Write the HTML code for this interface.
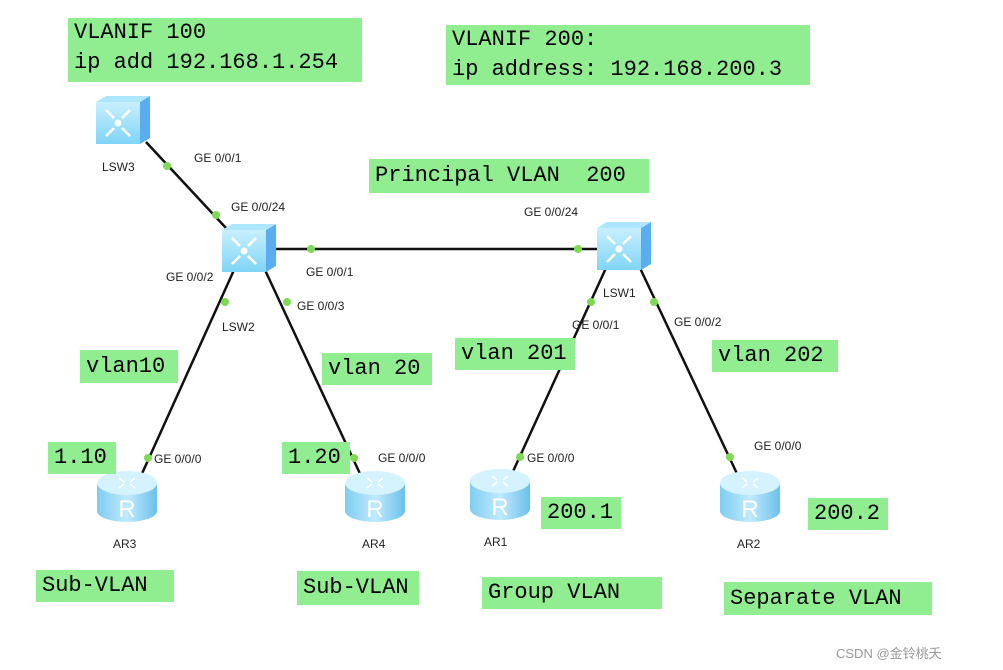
<!DOCTYPE html>
<html><head><meta charset="utf-8"><style>
body{margin:0;width:1003px;height:670px;background:#fff;position:relative;overflow:hidden;font-family:"Liberation Sans",sans-serif}
.g{position:absolute;background:#90ee90;font-family:"Liberation Mono",monospace;font-size:22px;line-height:30px;color:#000;padding:0 6px;box-sizing:border-box;white-space:pre}
.l{position:absolute;font-size:12px;color:#222;white-space:nowrap}
</style></head><body>
<svg width="1003" height="670" style="position:absolute;left:0;top:0">
<defs>
<linearGradient id="sf" x1="0" y1="0" x2="0" y2="1"><stop offset="0" stop-color="#c8f0ff"/><stop offset="1" stop-color="#7fd4f7"/></linearGradient>
<linearGradient id="rf" x1="0" y1="0" x2="1" y2="0"><stop offset="0" stop-color="#7fcdf0"/><stop offset="0.5" stop-color="#bfeaff"/><stop offset="1" stop-color="#6cc0ea"/></linearGradient>
<g id="sw"><polygon points="0,6 44,6 54,0 54,42 44,48 0,48" fill="#5aaef0"/><polygon points="0,6 44,6 54,0 10,0" fill="#aee6ff"/><rect x="0" y="6" width="44" height="42" fill="url(#sf)"/>
<g stroke="#fff" stroke-width="2.5" fill="none"><path d="M10 14l8 8M34 14l-8 8M10 40l8-8M34 40l-8-8"/></g><circle cx="22" cy="27" r="3.5" fill="#fff"/></g>
<g id="rt"><path d="M0 13 v28 a30 11 0 0 0 60 0 v-28z" fill="url(#rf)"/><ellipse cx="30" cy="13" rx="30" ry="12" fill="#d4f2ff"/>
<g stroke="#fff" stroke-width="1.5" fill="none"><path d="M22 8l5 4M38 8l-5 4M22 18l5-4M38 18l-5-4"/></g>
<text x="30" y="47" font-family="Liberation Sans" font-size="24" fill="#fff" text-anchor="middle">R</text></g>
</defs>
<g stroke="#111" stroke-width="2.5">
<line x1="146" y1="142" x2="226" y2="228"/>
<line x1="275" y1="249" x2="598" y2="249"/>
<line x1="234" y1="270" x2="140" y2="478"/>
<line x1="265" y1="270" x2="362" y2="478"/>
<line x1="606" y1="268" x2="510" y2="478"/>
<line x1="640" y1="268" x2="740" y2="480"/>
</g>
<g fill="#7ed957">
<circle cx="167" cy="166" r="4"/><circle cx="216" cy="215" r="4"/><circle cx="311" cy="249" r="4"/><circle cx="578" cy="249" r="4"/>
<circle cx="225" cy="302" r="4"/><circle cx="148" cy="458" r="4"/><circle cx="287" cy="302" r="4"/><circle cx="354" cy="458" r="4"/>
<circle cx="591" cy="302" r="4"/><circle cx="520" cy="457" r="4"/><circle cx="654" cy="302" r="4"/><circle cx="730" cy="457" r="4"/>
</g>
<use href="#sw" x="96" y="96"/><use href="#sw" x="222" y="224"/><use href="#sw" x="597" y="222"/>
<use href="#rt" x="97" y="470"/><use href="#rt" x="345" y="470"/><use href="#rt" x="470" y="468"/><use href="#rt" x="720" y="470"/>
</svg>
<div class="g" style="left:68px;top:18px;width:294px;height:64px">VLANIF 100
ip add 192.168.1.254</div>
<div class="g" style="left:446px;top:25px;width:364px;height:60px">VLANIF 200:
ip address: 192.168.200.3</div>
<div class="g" style="left:369px;top:159px;width:280px;height:34px;line-height:34px">Principal VLAN  200</div>
<div class="g" style="left:80px;top:350px;width:98px;height:33px;line-height:33px">vlan10</div>
<div class="g" style="left:322px;top:353px;width:110px;height:32px;line-height:32px">vlan 20</div>
<div class="g" style="left:455px;top:338px;width:120px;height:32px;line-height:32px">vlan 201</div>
<div class="g" style="left:712px;top:340px;width:126px;height:32px;line-height:32px">vlan 202</div>
<div class="g" style="left:48px;top:442px;width:68px;height:32px;line-height:32px">1.10</div>
<div class="g" style="left:282px;top:442px;width:68px;height:32px;line-height:32px">1.20</div>
<div class="g" style="left:541px;top:497px;width:80px;height:32px;line-height:32px">200.1</div>
<div class="g" style="left:808px;top:498px;width:80px;height:32px;line-height:32px">200.2</div>
<div class="g" style="left:36px;top:570px;width:138px;height:32px;line-height:32px">Sub-VLAN</div>
<div class="g" style="left:297px;top:571px;width:122px;height:34px;line-height:34px">Sub-VLAN</div>
<div class="g" style="left:482px;top:577px;width:180px;height:32px;line-height:32px">Group VLAN</div>
<div class="g" style="left:724px;top:582px;width:208px;height:33px;line-height:33px">Separate VLAN</div>
<div class="l" style="left:102px;top:160px">LSW3</div>
<div class="l" style="left:194px;top:151px">GE 0/0/1</div>
<div class="l" style="left:231px;top:200px">GE 0/0/24</div>
<div class="l" style="left:166px;top:270px">GE 0/0/2</div>
<div class="l" style="left:306px;top:265px">GE 0/0/1</div>
<div class="l" style="left:297px;top:299px">GE 0/0/3</div>
<div class="l" style="left:222px;top:320px">LSW2</div>
<div class="l" style="left:524px;top:205px">GE 0/0/24</div>
<div class="l" style="left:603px;top:286px">LSW1</div>
<div class="l" style="left:572px;top:318px">GE 0/0/1</div>
<div class="l" style="left:674px;top:315px">GE 0/0/2</div>
<div class="l" style="left:154px;top:452px">GE 0/0/0</div>
<div class="l" style="left:378px;top:451px">GE 0/0/0</div>
<div class="l" style="left:527px;top:451px">GE 0/0/0</div>
<div class="l" style="left:754px;top:439px">GE 0/0/0</div>
<div class="l" style="left:113px;top:537px">AR3</div>
<div class="l" style="left:362px;top:537px">AR4</div>
<div class="l" style="left:484px;top:535px">AR1</div>
<div class="l" style="left:737px;top:537px">AR2</div>
<div class="l" style="left:836px;top:643px;font-size:13px;color:#999;font-family:'Liberation Sans','Noto Sans CJK SC',sans-serif">CSDN @金铃桃夭</div>
</body></html>
